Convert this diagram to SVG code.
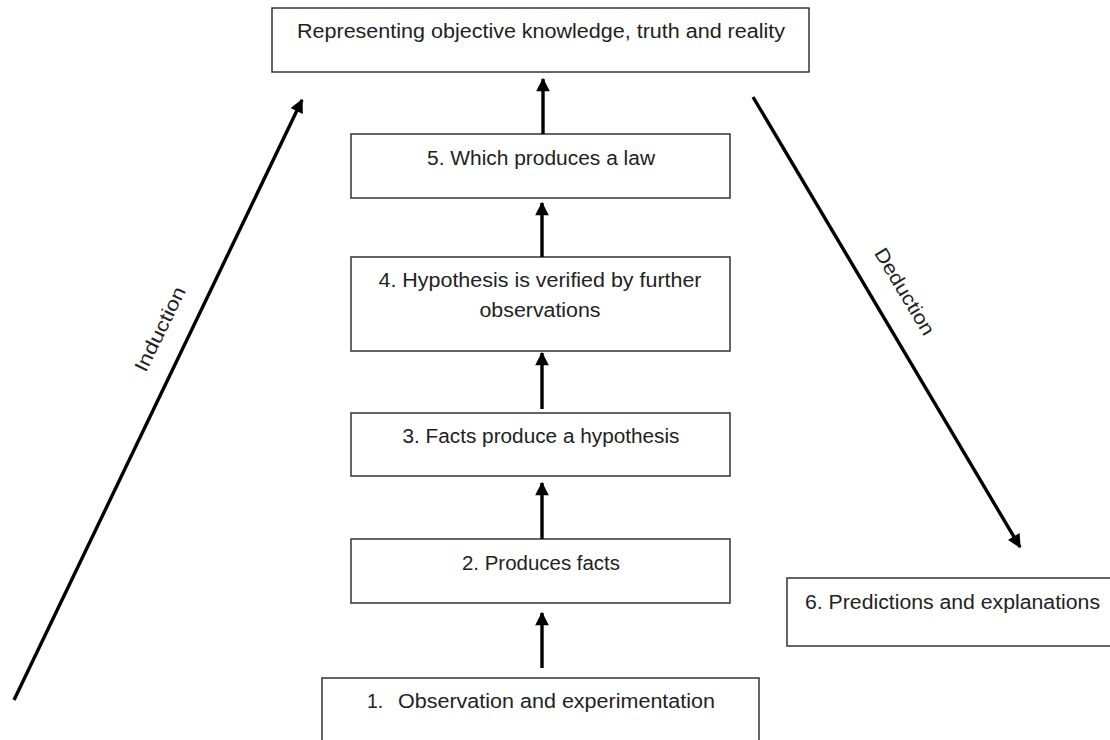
<svg xmlns="http://www.w3.org/2000/svg" width="1110" height="740" viewBox="0 0 1110 740">
<style>
.box{fill:#fff;stroke:#333;stroke-width:1.5}
.t{font-family:"Liberation Sans",Arial,sans-serif;font-size:19.5px;fill:#222;text-anchor:middle}
.c{stroke:#000;stroke-width:3.4;fill:none}
</style>
<defs>
<marker id="ah" viewBox="0 0 10 10" refX="9" refY="5" markerWidth="4.2" markerHeight="4" orient="auto" markerUnits="strokeWidth">
<path d="M0,0 L10,5 L0,10 z" fill="#000"/>
</marker>
</defs>
<rect width="1110" height="740" fill="#fff"/>
<g id="top">
<rect class="box" x="272" y="8" width="537" height="64"/>
<text class="t" x="541" y="38" textLength="488" lengthAdjust="spacingAndGlyphs">Representing objective knowledge, truth and reality</text>
</g>
<g id="n5">
<rect class="box" x="351" y="134" width="379" height="64"/>
<text class="t" x="541" y="165" textLength="228" lengthAdjust="spacingAndGlyphs">5. Which produces a law</text>
</g>
<g id="n4">
<rect class="box" x="351" y="257" width="379" height="94"/>
<text class="t" x="540" y="287" textLength="323" lengthAdjust="spacingAndGlyphs">4. Hypothesis is verified by further</text>
<text class="t" x="540" y="317" textLength="121" lengthAdjust="spacingAndGlyphs">observations</text>
</g>
<g id="n3">
<rect class="box" x="351" y="413" width="379" height="63"/>
<text class="t" x="541" y="443" textLength="277" lengthAdjust="spacingAndGlyphs">3. Facts produce a hypothesis</text>
</g>
<g id="n2">
<rect class="box" x="351" y="539" width="379" height="64"/>
<text class="t" x="541" y="570" textLength="158" lengthAdjust="spacingAndGlyphs">2. Produces facts</text>
</g>
<g id="n1">
<rect class="box" x="322" y="678" width="437" height="80"/>
<text class="t" x="367" y="708" style="text-anchor:start">1.</text>
<text class="t" x="398" y="708" style="text-anchor:start" textLength="317" lengthAdjust="spacingAndGlyphs">Observation and experimentation</text>
</g>
<g id="n6">
<rect class="box" x="787" y="578" width="330" height="68"/>
<text class="t" x="805" y="609" style="text-anchor:start" textLength="295" lengthAdjust="spacingAndGlyphs">6. Predictions and explanations</text>
</g>
<g id="connectors">
<line class="c" x1="543" y1="134" x2="543" y2="79" marker-end="url(#ah)"/>
<line class="c" x1="542" y1="257" x2="542" y2="203" marker-end="url(#ah)"/>
<line class="c" x1="542" y1="409" x2="542" y2="353" marker-end="url(#ah)"/>
<line class="c" x1="542" y1="539" x2="542" y2="483" marker-end="url(#ah)"/>
<line class="c" x1="542" y1="668" x2="542" y2="613" marker-end="url(#ah)"/>
<line class="c" x1="14" y1="700" x2="302" y2="100" marker-end="url(#ah)"/>
<line class="c" x1="753" y1="97" x2="1020" y2="547" marker-end="url(#ah)"/>
<text class="t" transform="translate(166,332) rotate(-64)" textLength="92" lengthAdjust="spacingAndGlyphs">Induction</text>
<text class="t" transform="translate(899,295) rotate(59)" textLength="98" lengthAdjust="spacingAndGlyphs">Deduction</text>
</g>
</svg>
